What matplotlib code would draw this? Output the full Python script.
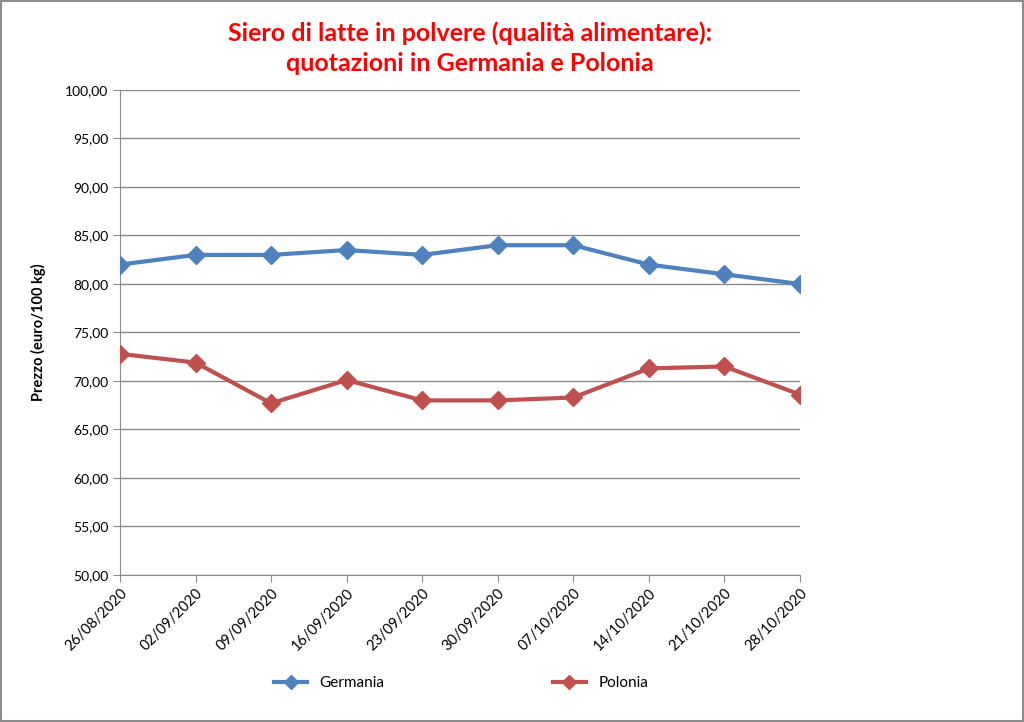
import matplotlib
matplotlib.use("Agg")
import matplotlib.pyplot as plt
from matplotlib.patches import Rectangle

dates = ["26/08/2020", "02/09/2020", "09/09/2020", "16/09/2020", "23/09/2020",
         "30/09/2020", "07/10/2020", "14/10/2020", "21/10/2020", "28/10/2020"]
germania = [82.0, 83.0, 83.0, 83.5, 83.0, 84.0, 84.0, 82.0, 81.0, 80.0]
polonia = [72.8, 71.9, 67.7, 70.1, 68.0, 68.0, 68.3, 71.3, 71.5, 68.6]
y_ticks = [50, 55, 60, 65, 70, 75, 80, 85, 90, 95, 100]

plt.rcParams['font.family'] = ['Lato', 'DejaVu Sans']

fig = plt.figure(figsize=(10.24, 7.22), dpi=100)
ax = fig.add_axes([120 / 1024, 1 - 575 / 722, 680 / 1024, 485 / 722])

x = list(range(len(dates)))
ax.plot(x, germania, color='#4F81BD', lw=3, marker='D', ms=9, label='Germania', zorder=3)
ax.plot(x, polonia, color='#C0504D', lw=3, marker='D', ms=9, label='Polonia', zorder=3)

ax.set_xlim(0, len(dates) - 1)
ax.set_ylim(50, 100)
ax.set_yticks(y_ticks)
ax.set_yticklabels([f"{v:.2f}".replace('.', ',') for v in y_ticks], fontsize=10)
ax.set_xticks(x)
ax.set_xticklabels(dates, rotation=45, ha='right', rotation_mode='anchor', fontsize=10.5)
ax.grid(axis='y', color='#8c8c8c', lw=1)
ax.set_axisbelow(True)
for s in ['top', 'right']:
    ax.spines[s].set_visible(False)
for s in ['left', 'bottom']:
    ax.spines[s].set_color('#8c8c8c')
ax.tick_params(axis='both', color='#8c8c8c', length=5)
ax.tick_params(axis='x', pad=3)

ax.set_ylabel('Prezzo (euro/100 kg)', fontsize=10.5, fontweight='bold', labelpad=14)

fig.text(470 / 1024, 1 - 48 / 722, 'Siero di latte in polvere (qualità alimentare):\nquotazioni in Germania e Polonia',
         ha='center', va='center', fontsize=18, fontweight='bold', color='#FF0000', linespacing=1.35)

fig.legend(loc='center', bbox_to_anchor=(461 / 1024, 1 - 683 / 722), ncol=2, frameon=False,
           columnspacing=11, handlelength=2.2, markerscale=0.8, fontsize=11)

fig.patches.append(Rectangle((0.001, 0.001), 0.998, 0.998, transform=fig.transFigure,
                             fill=False, edgecolor='#8c8c8c', lw=1.5))

fig.savefig('out.png', dpi=100)
